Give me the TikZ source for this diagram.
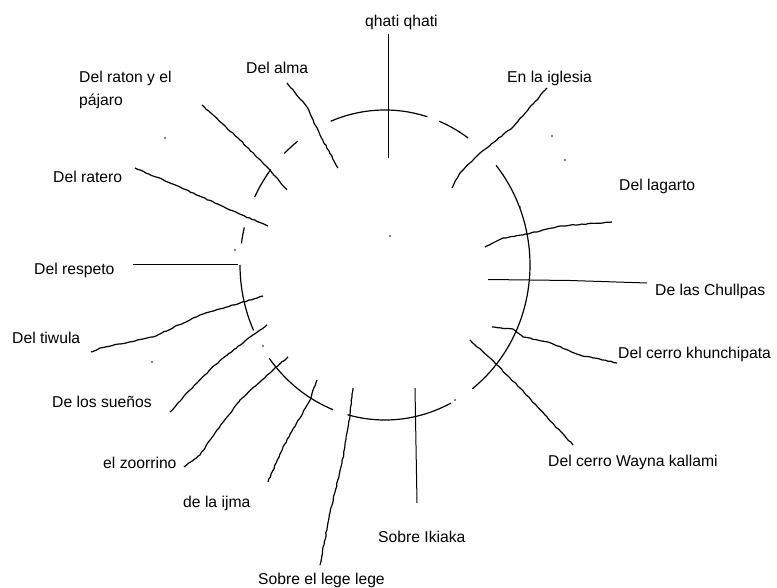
\documentclass[tikz,border=0pt]{standalone}
\usepackage{fontspec}
\setmainfont{Liberation Sans}
\usetikzlibrary{decorations.pathmorphing}
\tikzset{
  lbl/.style={anchor=base west,inner sep=0pt,font=\fontsize{15.7}{18}\selectfont},
  rim/.style={line width=1.2pt},
  straight/.style={line width=1pt},
  hand/.style={line width=1.2pt,decorate,decoration={random steps,segment length=3pt,amplitude=0.45pt}},
}
\begin{document}
\begin{tikzpicture}[x=1pt,y=1pt]
\useasboundingbox (0,0) rectangle (777,-588);
% story titles
\foreach \n/\x/\y/\t in {qhati/365/27/qhati qhati, iglesia/507/83/En la iglesia,
  lagarto/619/191/Del lagarto, chullpas/655/295/De las Chullpas,
  khun/618/358/Del cerro khunchipata, wayna/548/466/Del cerro Wayna kallami,
  ikiaka/378/542/Sobre Ikiaka, lege/258/584/Sobre el lege lege,
  ijma/183/507/de la ijma, zoorrino/103/468/el zoorrino,
  suenos/52/407/De los sueños, tiwula/12/343/Del tiwula,
  respeto/34/275/Del respeto, ratero/53/183/Del ratero,
  ratonA/79/83/Del raton y el, ratonB/79/106/pájaro, alma/246/74/Del alma}
  \node[lbl] (\n) at (\x,-\y) {\t};
% the broken circle
\coordinate (c) at (385,-265);
\foreach \a/\b in {73/112,55/68,127/134,142/154,166/172,180/205,217/249,255/297,-53/40}
  \draw[rim] (c) ++(\a:145 and 155) arc[start angle=\a,end angle=\b,x radius=145,y radius=155];
% ends of the strokes
\foreach \n/\x/\y in {qhati-o/388.5/34, qhati-i/388.5/158, iglesia-o/547/88, iglesia-i/452/188,
  lagarto-o/612/222, lagarto-i/485/247, chullpas-o/647/283, chullpas-i/488/279.5,
  khun-o/617/363, khun-i/492/327, wayna-o/573/445, wayna-i/470/340,
  ikiaka-o/417/503, ikiaka-i/415/388, lege-o/320/565, lege-i/353/388,
  ijma-o/268/482, ijma-i/317/380, zoorrino-o/184/467, zoorrino-i/288/357,
  suenos-o/170/412, suenos-i/267/325, tiwula-o/91/352, tiwula-i/263/296,
  respeto-o/133/264.5, respeto-i/238/264.5, ratero-o/135/168, ratero-i/268/226,
  raton-o/202/105, raton-i/287/190, alma-o/287/83, alma-i/338/168}
  \coordinate (\n) at (\x,-\y);
\draw[straight] (qhati-o) -- (qhati-i);
\draw[hand] (iglesia-o) -- (513,-127) -- (480,-153) -- (460,-173) -- (iglesia-i);
\draw[hand] (lagarto-o) -- (560,-226) -- (523,-235) -- (503,-238) -- (lagarto-i);
\draw[straight] (chullpas-o) -- (570,-280.5) -- (chullpas-i);
\draw[hand] (khun-o) -- (580,-355) -- (548,-342) -- (523,-337) -- (513,-329) -- (khun-i);
\draw[hand] (wayna-o) -- (545,-415) -- (520,-388) -- (495,-363) -- (wayna-i);
\draw[straight] (ikiaka-o) -- (ikiaka-i);
\draw[hand] (lege-o) -- (330,-513) -- (342,-463) -- (350,-415) -- (lege-i);
\draw[hand] (ijma-o) -- (283,-447) -- (309,-402) -- (ijma-i);
\draw[hand] (zoorrino-o) -- (200,-455) -- (217,-430) -- (240,-400) -- (273,-370) -- (zoorrino-i);
\draw[hand] (suenos-o) -- (190,-390) -- (215,-365) -- (250,-337) -- (suenos-i);
\draw[hand] (tiwula-o) -- (100,-348) -- (153,-337) -- (200,-315) -- (240,-303) -- (tiwula-i);
\draw[straight] (respeto-o) -- (respeto-i);
\draw[hand] (ratero-o) -- (180,-187) -- (230,-210) -- (ratero-i);
\draw[hand] (raton-o) -- (240,-140) -- (268,-168) -- (raton-i);
\draw[hand] (alma-o) -- (307,-107) -- (320,-135) -- (alma-i);
% stray pen marks
\foreach \x/\y in {552/136,565/160,520/207,165/138,152/362,263/346,235/250,455/400,390/236}
  \fill (\x,-\y) circle (0.9);
\end{tikzpicture}
\end{document}
